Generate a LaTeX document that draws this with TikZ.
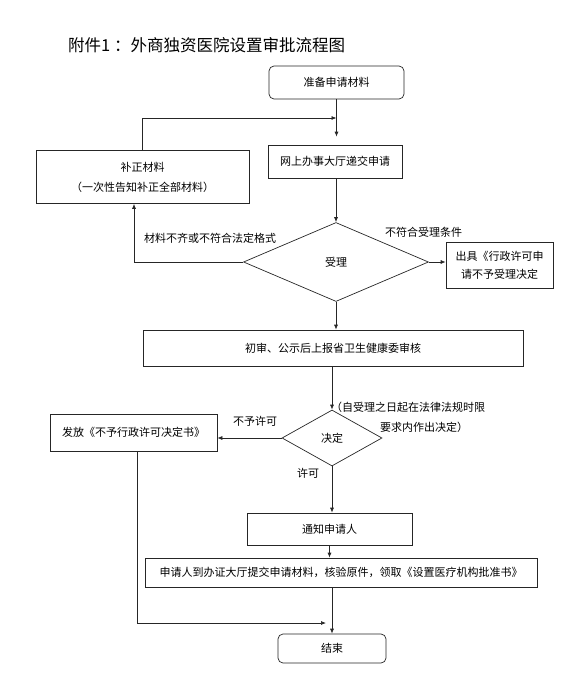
\documentclass[tikz,border=0pt]{standalone}
\usepackage{fontspec}
\setmainfont{Noto Sans CJK SC}
\usetikzlibrary{shapes.geometric,arrows.meta}
\tikzset{
  base/.style={draw=black!85, line width=0.7pt, inner sep=0pt, font=\fontsize{11}{14}\selectfont, align=center},
  box/.style={base, rectangle},
  rbox/.style={base, rectangle, rounded corners=5pt},
  dia/.style={base, diamond, aspect=2},
  arr/.style={draw=black!85, line width=0.7pt, -{Latex[length=5pt,width=4pt]}},
  lbl/.style={inner sep=0pt, font=\fontsize{11}{14}\selectfont, anchor=west},
}
\begin{document}
\begin{tikzpicture}[x=1pt,y=-1pt]
\useasboundingbox (0,0) rectangle (565,685);
\node[inner sep=0pt, anchor=west, font=\fontsize{16.5}{18}\selectfont] (title) at (68,45) {附件1 ：外商独资医院设置审批流程图};

\node[rbox, minimum width=135pt, minimum height=33pt] (prep) at (336.5,82.5) {准备申请材料};
\node[box, minimum width=134pt, minimum height=33pt] (online) at (335,161.5) {网上办事大厅递交申请};
\node[box, minimum width=213pt, minimum height=53pt, font=\fontsize{11}{20}\selectfont] (fix) at (142.5,177) {补正材料\\（一次性告知补正全部材料）};
\node[dia, minimum width=185pt, minimum height=79pt] (accept) at (336,262) {受理};
\node[box, minimum width=107pt, minimum height=46pt, font=\fontsize{11}{18}\selectfont] (reject) at (499.5,265) {出具《行政许可申\\请不予受理决定};
\node[box, minimum width=380pt, minimum height=36pt] (review) at (333,348) {初审、公示后上报省卫生健康委审核};
\node[dia, minimum width=100pt, minimum height=56pt] (decide) at (332,438) {决定};
\node[box, minimum width=167pt, minimum height=37pt] (deny) at (133.5,432.5) {发放《不予行政许可决定书》};
\node[box, minimum width=165pt, minimum height=32pt] (notify) at (329.5,529) {通知申请人};
\node[box, minimum width=392pt, minimum height=29pt] (collect) at (341,572.5) {申请人到办证大厅提交申请材料，核验原件，领取《设置医疗机构批准书》};
\node[rbox, minimum width=108pt, minimum height=29pt] (end) at (332,648.5) {结束};

\coordinate (join) at (336.5,118);
\coordinate (endjoin) at (326,623);

\draw[arr, shorten >=8pt] (prep.south) -- (prep.south |- online.north);
\draw[arr] (fix.north) |- (join);
\draw[arr] (online.south -| accept.north) -- (accept.north);
\draw[arr] (accept.west) -| ([xshift=-8.5pt]fix.south);
\draw[arr] (accept.east) -- (reject.west |- accept.east);
\draw[arr] (accept.south) -- (accept.south |- review.north);
\draw[arr] (review.south -| decide.north) -- (decide.north);
\draw[arr] (decide.west) -- (deny.east |- decide.west);
\draw[arr] (decide.south) -- (decide.south |- notify.north);
\draw[arr] (notify.south) -- (notify.south |- collect.north);
\draw[arr] (collect.south -| end.north) -- (end.north);
\draw[arr] ([xshift=3.5pt]deny.south) |- (endjoin);

\node[lbl] (l1) at (144,238) {材料不齐或不符合法定格式};
\node[lbl] (l2) at (385,232) {不符合受理条件};
\node[lbl] (l3) at (331,407) {（自受理之日起在法律法规时限};
\node[lbl] (l4) at (380,427) {要求内作出决定）};
\node[lbl] (l5) at (233,421) {不予许可};
\node[lbl] (l6) at (297,473) {许可};
\end{tikzpicture}
\end{document}
